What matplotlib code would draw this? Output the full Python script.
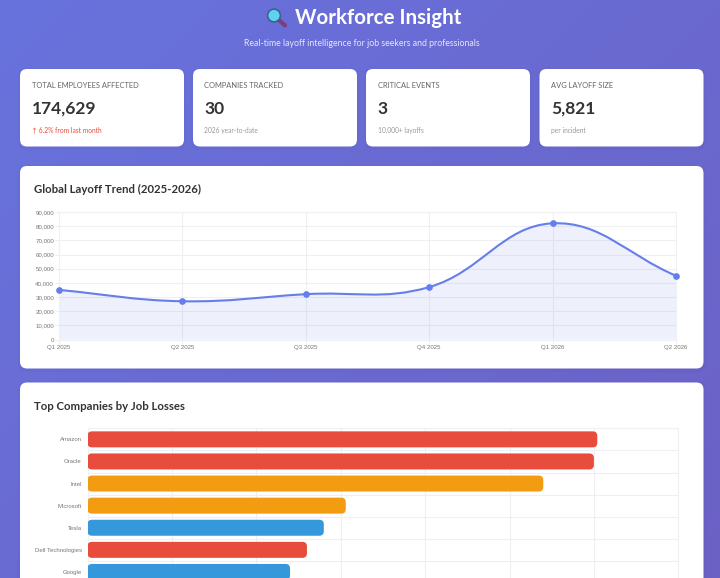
import numpy as np
import matplotlib
matplotlib.use("Agg")
import matplotlib.pyplot as plt
from matplotlib.patches import FancyBboxPatch, PathPatch, Circle
from matplotlib.path import Path

W, H = 720, 578
UI_FONT = ["Lato", "DejaVu Sans"]
CHART_FONT = ["Liberation Sans", "DejaVu Sans"]

stat_labels = ["TOTAL EMPLOYEES AFFECTED", "COMPANIES TRACKED", "CRITICAL EVENTS", "AVG LAYOFF SIZE"]
stat_values = ["174,629", "30", "3", "5,821"]
stat_notes = ["↑ 6.2% from last month", "2026 year-to-date", "10,000+ layoffs", "per incident"]
stat_note_colors = ["#e74c3c", "#999999", "#999999", "#999999"]

quarters = ["Q1 2025", "Q2 2025", "Q3 2025", "Q4 2025", "Q1 2026", "Q2 2026"]
quarter_totals = [35000, 27000, 32000, 37000, 82000, 45000]

companies = ["Amazon", "Oracle", "Intel", "Microsoft", "Tesla", "Dell Technologies", "Google"]
job_losses = [30200, 30000, 27000, 15300, 14000, 13000, 12000]
severity = ["critical", "critical", "high", "high", "medium", "critical", "medium"]
severity_colors = {"critical": "#e74c3c", "high": "#f39c12", "medium": "#3498db"}


def px(size):
    # css pixels to points at 100 dpi
    return size * 0.72


def axes_at(fig, left, top, right, bottom):
    return fig.add_axes([left / W, 1 - bottom / H, (right - left) / W, (bottom - top) / H],
                        facecolor="none")


def card(ax, x0, y0, x1, y1, radius):
    for grow, alpha in [(3, 0.012), (1.5, 0.018)]:
        ax.add_patch(FancyBboxPatch((x0 - grow, y0 - grow + 1.5), x1 - x0 + 2 * grow, y1 - y0 + 2 * grow,
                                    boxstyle=f"round,pad=0,rounding_size={radius + grow}",
                                    fc="#20205a", ec="none", alpha=alpha, zorder=2))
    ax.add_patch(FancyBboxPatch((x0, y0), x1 - x0, y1 - y0,
                                boxstyle=f"round,pad=0,rounding_size={radius}",
                                fc="white", ec="none", zorder=3))


def spline_path(xs, ys, x_scale, y_scale, tension=0.4):
    # cubic segments with control points taken from neighbouring points
    pts = np.column_stack([np.array(xs) * x_scale, np.array(ys) * y_scale])
    n = len(pts)
    before, after = [], []
    for i in range(n):
        prev = pts[max(i - 1, 0)]
        cur = pts[i]
        nxt = pts[min(i + 1, n - 1)]
        d01 = np.hypot(*(cur - prev))
        d12 = np.hypot(*(nxt - cur))
        total = d01 + d12
        before.append(cur - tension * d01 / total * (nxt - prev))
        after.append(cur + tension * d12 / total * (nxt - prev))
    verts = [pts[0]]
    codes = [Path.MOVETO]
    for i in range(n - 1):
        verts += [after[i], before[i + 1], pts[i + 1]]
        codes += [Path.CURVE4] * 3
    verts = np.array(verts) / [x_scale, y_scale]
    return verts, codes


def style_grid(ax):
    ax.grid(True, color="#efeff2", lw=0.8)
    ax.set_axisbelow(True)
    for side in ax.spines:
        ax.spines[side].set_color("#f0f0f2")
        ax.spines[side].set_linewidth(0.8)


fig = plt.figure(figsize=(W / 100, H / 100), dpi=100)

# page background and cards
bg = fig.add_axes([0, 0, 1, 1])
bg.set_xlim(0, W)
bg.set_ylim(H, 0)
bg.axis("off")
gx, gy = np.meshgrid(np.arange(W), np.arange(H))
t = (gx + gy) / (W + H)
start = np.array([104, 115, 221]) / 255
end = np.array([108, 97, 197]) / 255
gradient = start + t[..., None] * (end - start)
bg.imshow(gradient, extent=(0, W, H, 0), aspect="auto", zorder=0)

# header with a small magnifier icon
bg.plot([279.5, 285], [20.5, 25.5], color="#7d3f78", lw=3.0, solid_capstyle="round", zorder=4)
bg.add_patch(Circle((274, 15.5), 6.4, fc="#5fd3ee", ec="#3f5f95", lw=1.2, zorder=5))
bg.text(378, 18, "Workforce Insight", color="white", fontsize=px(20.5), fontweight="bold",
        family=UI_FONT, ha="center", va="center", zorder=5)
bg.text(361.5, 44, "Real-time layoff intelligence for job seekers and professionals",
        color="#e6e6f8", fontsize=px(8.8), family=UI_FONT, ha="center", va="center", zorder=5)

# stat cards
card_lefts = [20, 193, 366, 539.5]
for i, left in enumerate(card_lefts):
    card(bg, left, 69, left + 164, 146.5, 7)
    tx = left + 11.5
    bg.text(tx, 86, stat_labels[i], color="#666666", fontsize=px(7.5), family=UI_FONT, va="center", zorder=5)
    bg.text(tx, 109, stat_values[i], color="#333333", fontsize=px(17.4), fontweight="bold",
            family=UI_FONT, va="center", zorder=5)
    bg.text(tx, 130, stat_notes[i], color=stat_note_colors[i], fontsize=px(6.6), family=UI_FONT,
            va="center", zorder=5)

# chart cards, the lower one runs past the bottom edge
card(bg, 20, 166, 703.5, 368.5, 7)
card(bg, 20, 382.5, 703.5, 640, 7)
bg.text(34.5, 189, "Global Layoff Trend (2025-2026)", color="#333333", fontsize=px(11.4), fontweight="bold",
        family=UI_FONT, va="center", zorder=5)
bg.text(34.5, 406.5, "Top Companies by Job Losses", color="#333333", fontsize=px(11.4), fontweight="bold",
        family=UI_FONT, va="center", zorder=5)

# trend chart
ax = axes_at(fig, 59, 212, 676, 339.5)
x = np.arange(len(quarters))
ax.set_xlim(0, len(quarters) - 1)
ax.set_ylim(0, 90000)
verts, codes = spline_path(x, quarter_totals, 617 / 5, 127.5 / 90000)
fill_verts = np.vstack([verts, [x[-1], 0], [x[0], 0], verts[0]])
fill_codes = codes + [Path.LINETO, Path.LINETO, Path.CLOSEPOLY]
ax.add_patch(PathPatch(Path(fill_verts, fill_codes), fc="#667eea", ec="none", alpha=0.11, zorder=2))
ax.add_patch(PathPatch(Path(verts, codes), fc="none", ec="#667eea", lw=1.5, zorder=3, clip_on=False))
ax.plot(x, quarter_totals, "o", color="#667eea", ms=3.8, mec="#667eea", zorder=4, clip_on=False)
ax.set_xticks(x, quarters)
ax.set_yticks(np.arange(0, 90001, 10000), [f"{v:,}" for v in range(0, 90001, 10000)])
ax.tick_params(axis="both", length=3, width=0.8, color="#efeff2", labelcolor="#777777",
               labelsize=px(6.1), pad=0.6)
for label in ax.get_xticklabels() + ax.get_yticklabels():
    label.set_family(CHART_FONT)
style_grid(ax)

# companies chart, last row sits partly below the figure edge
row = 22.1
ax2 = axes_at(fig, 87.5, 428.3, 678.3, 428.3 + row * len(companies))
ax2.set_xlim(0, 35000)
ax2.set_ylim(len(companies) - 0.5, -0.5)
corner = 4.5
x_per_px = 35000 / (678.3 - 87.5)
y_per_px = 1 / row
bar_height = 16 * y_per_px
for i, value in enumerate(job_losses):
    ax2.add_patch(FancyBboxPatch((0, i - bar_height / 2), value, bar_height,
                                 boxstyle=f"round,pad=0,rounding_size={corner * x_per_px}",
                                 mutation_aspect=y_per_px / x_per_px,
                                 fc=severity_colors[severity[i]], ec="none", zorder=3))
ax2.set_yticks(range(len(companies)), companies)
ax2.set_xticks(np.arange(0, 35001, 5000), [])
ax2.set_yticks(np.arange(-0.5, len(companies)), minor=True)
ax2.tick_params(axis="y", which="major", length=0, labelcolor="#777777", labelsize=px(6), pad=4.2)
ax2.tick_params(axis="y", which="minor", length=0)
ax2.tick_params(axis="x", length=0)
for label in ax2.get_yticklabels():
    label.set_family(CHART_FONT)
ax2.grid(True, axis="x", color="#efeff2", lw=0.8)
ax2.grid(True, axis="y", which="minor", color="#efeff2", lw=0.8)
ax2.set_axisbelow(True)
for side in ax2.spines:
    ax2.spines[side].set_color("#f0f0f2")
    ax2.spines[side].set_linewidth(0.8)

fig.savefig("out.png", dpi=100)
plt.close(fig)
